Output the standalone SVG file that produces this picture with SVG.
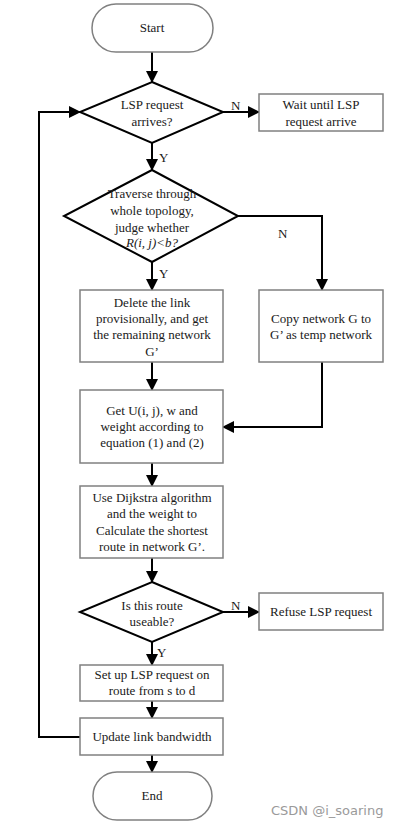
<svg xmlns="http://www.w3.org/2000/svg" width="402" height="827" viewBox="0 0 402 827">
<style>
.box{fill:#fff;stroke:#808080;stroke-width:1.5}
.dia{fill:#fff;stroke:#000;stroke-width:2}
.t{font-size:13px;fill:#1a1a1a;text-anchor:middle}
.lbl{font-size:13px;fill:#1a1a1a}
.c{fill:none;stroke:#000;stroke-width:2}
.wm{font-family:"DejaVu Sans",sans-serif;font-size:13px;fill:#9a9a9a}
</style>
<defs>
<marker id="ah" markerUnits="userSpaceOnUse" markerWidth="12" markerHeight="12" refX="11" refY="6" orient="auto">
<path d="M0,0 L12,6 L0,12 z" fill="#000"/>
</marker>
</defs>
<rect width="402" height="827" fill="#fff"/>
<g font-family="Liberation Serif, DejaVu Serif, serif">
<g id="connectors">
<path class="c" d="M152,52 V82" marker-end="url(#ah)"/>
<path class="c" d="M223,112 H259" marker-end="url(#ah)"/>
<path class="c" d="M152,143 V170" marker-end="url(#ah)"/>
<path class="c" d="M152,262 V290" marker-end="url(#ah)"/>
<path class="c" d="M238,216 H322 V290" marker-end="url(#ah)"/>
<path class="c" d="M152,362 V390" marker-end="url(#ah)"/>
<path class="c" d="M322,362 V427 H223" marker-end="url(#ah)"/>
<path class="c" d="M152,463 V486" marker-end="url(#ah)"/>
<path class="c" d="M152,558 V582" marker-end="url(#ah)"/>
<path class="c" d="M223,612 H259" marker-end="url(#ah)"/>
<path class="c" d="M152,642 V665" marker-end="url(#ah)"/>
<path class="c" d="M152,701 V718" marker-end="url(#ah)"/>
<path class="c" d="M152,755 V772" marker-end="url(#ah)"/>
<path class="c" d="M80,737 H39 V112 H80" marker-end="url(#ah)"/>
<text class="lbl" x="231" y="110">N</text>
<text class="lbl" x="159" y="162">Y</text>
<text class="lbl" x="278" y="238">N</text>
<text class="lbl" x="159" y="278">Y</text>
<text class="lbl" x="231" y="610">N</text>
<text class="lbl" x="157" y="657">Y</text>
</g>
<g id="start">
<rect class="box" x="92" y="4" width="121" height="48" rx="24"/>
<text class="t" x="152" y="32">Start</text>
</g>
<g id="d1">
<polygon class="dia" points="152,82 223,112 152,143 80,112"/>
<text class="t" x="152" y="109">LSP request</text>
<text class="t" x="152" y="126">arrives?</text>
</g>
<g id="wait">
<rect class="box" x="259" y="94" width="124" height="37"/>
<text class="t" x="321" y="109">Wait until LSP</text>
<text class="t" x="321" y="126">request arrive</text>
</g>
<g id="d2">
<polygon class="dia" points="152,170 238,216 152,262 64,216"/>
<text class="t" x="152" y="198">Traverse through</text>
<text class="t" x="152" y="215">whole topology,</text>
<text class="t" x="152" y="232">judge whether</text>
<text class="t" x="152" y="247" font-style="italic">R(i, j)&lt;b?</text>
</g>
<g id="delete">
<rect class="box" x="80" y="290" width="143" height="72"/>
<text class="t" x="152" y="307">Delete the link</text>
<text class="t" x="152" y="323">provisionally, and get</text>
<text class="t" x="152" y="339">the remaining network</text>
<text class="t" x="152" y="356">G’</text>
</g>
<g id="copy">
<rect class="box" x="259" y="290" width="124" height="72"/>
<text class="t" x="321" y="323">Copy network G to</text>
<text class="t" x="321" y="339">G’ as temp network</text>
</g>
<g id="getu">
<rect class="box" x="80" y="390" width="143" height="73"/>
<text class="t" x="152" y="415">Get U(i, j), w and</text>
<text class="t" x="152" y="431">weight according to</text>
<text class="t" x="152" y="447">equation (1) and (2)</text>
</g>
<g id="dijkstra">
<rect class="box" x="80" y="486" width="143" height="72"/>
<text class="t" x="152" y="502">Use Dijkstra algorithm</text>
<text class="t" x="152" y="518">and the weight to</text>
<text class="t" x="152" y="535">Calculate the shortest</text>
<text class="t" x="152" y="551">route in network G’.</text>
</g>
<g id="d3">
<polygon class="dia" points="152,582 223,612 152,642 80,612"/>
<text class="t" x="152" y="610">Is this route</text>
<text class="t" x="152" y="626">useable?</text>
</g>
<g id="refuse">
<rect class="box" x="259" y="593" width="124" height="37"/>
<text class="t" x="321" y="616">Refuse LSP request</text>
</g>
<g id="setup">
<rect class="box" x="80" y="665" width="143" height="36"/>
<text class="t" x="152" y="679">Set up LSP request on</text>
<text class="t" x="152" y="695">route from s to d</text>
</g>
<g id="update">
<rect class="box" x="80" y="718" width="143" height="37"/>
<text class="t" x="152" y="741">Update link bandwidth</text>
</g>
<g id="end">
<rect class="box" x="93" y="772" width="119" height="48" rx="24"/>
<text class="t" x="152" y="800">End</text>
</g>
</g>
<text class="wm" x="271" y="815">CSDN @i_soaring</text>
</svg>
